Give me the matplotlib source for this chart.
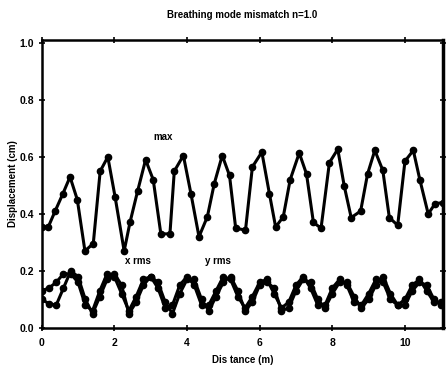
import matplotlib
matplotlib.use("Agg")
import matplotlib.pyplot as plt

# max displacement curve
x_max = [0, 0.18, 0.37, 0.58, 0.78, 0.98, 1.19, 1.42, 1.61, 1.82, 2.02, 2.27, 2.43, 2.64,
         2.86, 3.07, 3.28, 3.53, 3.65, 3.90, 4.11, 4.33, 4.56, 4.75, 4.97, 5.17, 5.34, 5.61,
         5.80, 6.06, 6.27, 6.44, 6.65, 6.84, 7.09, 7.29, 7.48, 7.69, 7.92, 8.15, 8.33, 8.52,
         8.78, 8.97, 9.17, 9.39, 9.57, 9.80, 10.0, 10.23, 10.41, 10.64, 10.83, 11.05]
y_max = [0.354, 0.354, 0.41, 0.47, 0.53, 0.45, 0.27, 0.296, 0.55, 0.60, 0.46, 0.27, 0.37, 0.48,
         0.59, 0.52, 0.33, 0.33, 0.55, 0.605, 0.47, 0.32, 0.39, 0.506, 0.605, 0.535, 0.35, 0.343,
         0.565, 0.617, 0.47, 0.354, 0.39, 0.52, 0.614, 0.54, 0.37, 0.35, 0.58, 0.627, 0.497, 0.387,
         0.41, 0.54, 0.623, 0.553, 0.387, 0.36, 0.585, 0.623, 0.52, 0.40, 0.436, 0.44]

# rms curves
x_rms = [0, 0.2, 0.4, 0.6, 0.8, 1.0, 1.2, 1.4, 1.6, 1.8, 2.0, 2.2, 2.4, 2.6, 2.8, 3.0, 3.2, 3.4,
         3.6, 3.8, 4.0, 4.2, 4.4, 4.6, 4.8, 5.0, 5.2, 5.4, 5.6, 5.8, 6.0, 6.2, 6.4, 6.6, 6.8, 7.0,
         7.2, 7.4, 7.6, 7.8, 8.0, 8.2, 8.4, 8.6, 8.8, 9.0, 9.2, 9.4, 9.6, 9.8, 10.0, 10.2, 10.4,
         10.6, 10.8, 11.0]
xrms = [0.13, 0.14, 0.16, 0.19, 0.19, 0.16, 0.08, 0.06, 0.13, 0.19, 0.18, 0.12, 0.06, 0.11,
        0.17, 0.18, 0.14, 0.07, 0.08, 0.15, 0.18, 0.15, 0.08, 0.08, 0.13, 0.18, 0.17, 0.11,
        0.07, 0.11, 0.16, 0.17, 0.12, 0.07, 0.09, 0.15, 0.18, 0.14, 0.08, 0.08, 0.14, 0.17,
        0.15, 0.09, 0.08, 0.12, 0.17, 0.16, 0.10, 0.08, 0.10, 0.15, 0.17, 0.13, 0.09, 0.09]
yrms = [0.10, 0.085, 0.08, 0.14, 0.20, 0.18, 0.10, 0.05, 0.11, 0.17, 0.19, 0.15, 0.05, 0.09,
        0.15, 0.18, 0.16, 0.09, 0.05, 0.12, 0.17, 0.17, 0.10, 0.06, 0.11, 0.16, 0.18, 0.13,
        0.06, 0.09, 0.15, 0.16, 0.14, 0.06, 0.07, 0.13, 0.17, 0.16, 0.10, 0.07, 0.12, 0.16,
        0.16, 0.11, 0.07, 0.10, 0.15, 0.18, 0.12, 0.08, 0.08, 0.13, 0.16, 0.15, 0.10, 0.08]

plt.rcParams['font.family'] = ['Liberation Sans', 'DejaVu Sans']
plt.rcParams['font.weight'] = 'bold'

fig = plt.figure(figsize=(4.46, 3.68), dpi=100)
ax = fig.add_axes([0.0935, 0.109, 0.9, 0.782])

style = dict(color='black', lw=2.2, marker='o', ms=4.5)
ax.plot(x_max, y_max, **style)
ax.plot(x_rms, xrms, **style)
ax.plot(x_rms, yrms, **style)

ax.text(3.35, 0.66, "max", fontsize=7, fontweight='bold', ha='center')
ax.text(2.65, 0.225, "x rms", fontsize=7, fontweight='bold', ha='center')
ax.text(4.86, 0.225, "y rms", fontsize=7, fontweight='bold', ha='center')

ax.set_xlim(0, 11.05)
ax.set_ylim(0, 1.01)
ax.set_xticks([0, 2, 4, 6, 8, 10])
ax.set_yticks([0.0, 0.2, 0.4, 0.6, 0.8, 1.0])
ax.set_yticklabels(["0.0", "0.2", "0.4", "0.6", "0.8", "1.0"])
ax.tick_params(direction='inout', length=5, width=1.2, labelsize=7.5, top=True, right=True)
ax.tick_params(axis='x', pad=5)
ax.tick_params(axis='y', pad=3)
for s in ax.spines.values():
    s.set_linewidth(1.8)
ax.spines['right'].set_linewidth(2.5)

ax.set_title("Breathing mode mismatch n=1.0", fontsize=7, fontweight='bold', pad=16)
ax.set_xlabel("Dis tance (m)", fontsize=7, fontweight='bold', labelpad=5)
ax.set_ylabel("Displacement (cm)", fontsize=7, fontweight='bold', labelpad=1)

fig.savefig("out.png", dpi=100)
